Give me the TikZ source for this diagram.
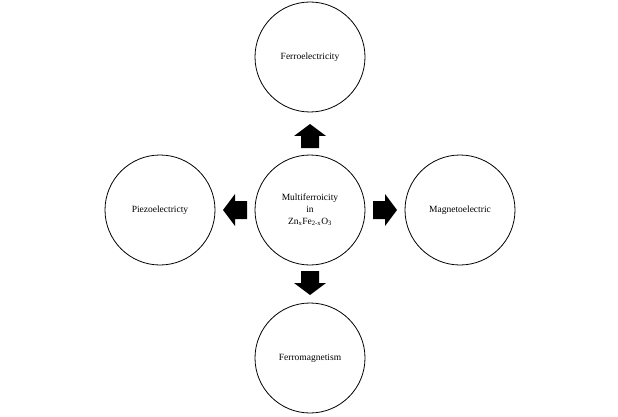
\documentclass[tikz,border=0pt]{standalone}
\usepackage{fontspec}
\setmainfont{Liberation Serif}
\begin{document}
\begin{tikzpicture}[x=1pt,y=-1pt,
  circ/.style={draw,circle,minimum size=110pt,inner sep=0pt,line width=0.8pt,font=\fontsize{9.5}{12}\selectfont,align=center},
  barrow/.style={fill=black}]
\useasboundingbox (0,0) rectangle (618,417);
\node[circ] (c) at (310,210) {Multiferroicity\\in\\Zn\textsubscript{x}Fe\textsubscript{2-x}O\textsubscript{3}};
\node[circ] (t) at (310,57) {Ferroelectricity};
\node[circ] (b) at (310,358) {Ferromagnetism};
\node[circ] (l) at (160,210) {Piezoelectricty};
\node[circ] (r) at (460,210) {Magnetoelectric};
\coordinate (au) at (310,136);
\coordinate (ad) at (310,283);
\coordinate (al) at (235,210);
\coordinate (ar) at (385,210);
\foreach \p/\a in {au/90,ad/-90,al/180,ar/0}{
  \fill[barrow,shift={(\p)},rotate=\a] (-12,-9) -- (0,-9) -- (0,-16) -- (12,0) -- (0,16) -- (0,9) -- (-12,9) -- cycle;
}
\end{tikzpicture}
\end{document}
